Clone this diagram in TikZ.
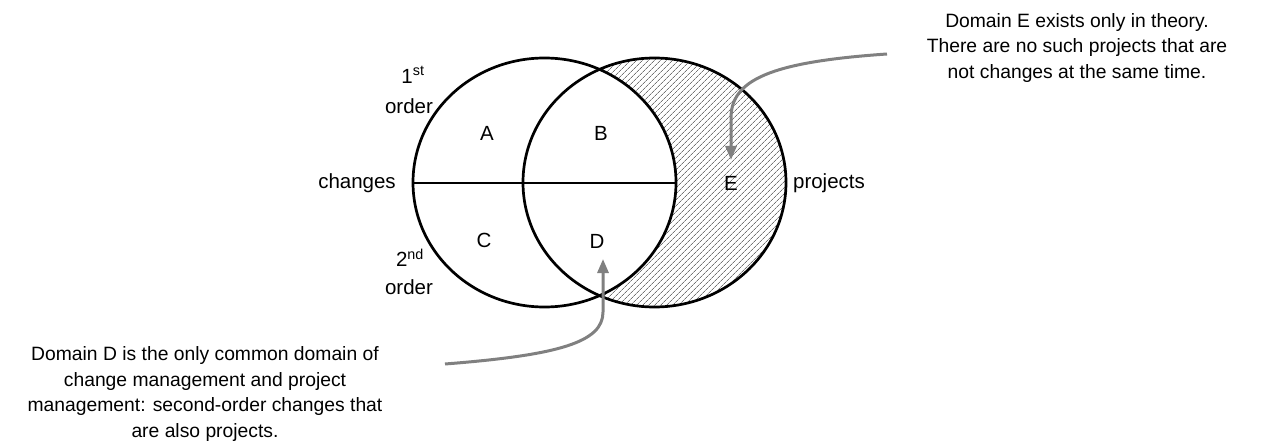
\documentclass[tikz,border=0pt]{standalone}
\usepackage{fontspec}
\setmainfont{Liberation Sans}
\usetikzlibrary{arrows.meta,patterns.meta}
\begin{document}
\begin{tikzpicture}[x=1pt,y=-1pt,
  lbl/.style={inner sep=0pt,font=\fontsize{20.5}{25}\selectfont},
  note/.style={inner sep=0pt,align=center,font=\fontsize{19.3}{25.5}\selectfont},
  setline/.style={line width=2.7pt,black},
  callout/.style={line width=3pt,draw=black!50,-{Triangle[length=14pt,width=11pt]}}]
\useasboundingbox (0,0) rectangle (1269,441);
% hatched domain E
\fill[pattern={Lines[angle=45,distance=4pt,line width=0.7pt]},pattern color=black!55]
  (654.5,182.5) ellipse [x radius=131.5,y radius=124.5];
\fill[white] (544.5,182.5) ellipse [x radius=131.5,y radius=124.5];
% circles
\draw[setline] (544.5,182.5) ellipse [x radius=131.5,y radius=124.5];
\draw[setline] (654.5,182.5) ellipse [x radius=131.5,y radius=124.5];
\coordinate (hl) at (413,183);
\coordinate (hr) at (676,183);
\draw[setline] (hl) -- (hr);
% labels
\node[lbl] (A) at (487,133) {A};
\node[lbl] (B) at (601,133) {B};
\node[lbl] (C) at (484,240) {C};
\node[lbl] (D) at (597,241) {D};
\node[lbl] (E) at (731,183) {E};
\node[lbl] (chg) at (357,183) {changes};
\node[lbl] (prj) at (829,183) {projects};
\node[lbl] (first) at (413,75) {1\textsuperscript{st}};
\node[lbl] (ord1) at (409,106) {order};
\node[lbl] (second) at (410,258) {2\textsuperscript{nd}};
\node[lbl] (ord2) at (409,287) {order};
% notes
\node[note] (noteE) at (1077,48) {Domain E exists only in theory.\\There are no such projects that are\\not changes at the same time.};
\node[note] (noteD) at (205,394) {Domain D is the only common domain of\\change management and project\\management: second-order changes that\\are also projects.};
% callouts
\coordinate (eS) at (887,54);
\coordinate (eT) at (731,160);
\coordinate (dS) at (445,364);
\coordinate (dT) at (603,259);
\draw[callout] (eS) .. controls (770,62) and (731,80) .. (731,118) -- (eT);
\draw[callout] (dS) .. controls (560,355) and (603,342) .. (603,312) -- (dT);
\end{tikzpicture}
\end{document}
